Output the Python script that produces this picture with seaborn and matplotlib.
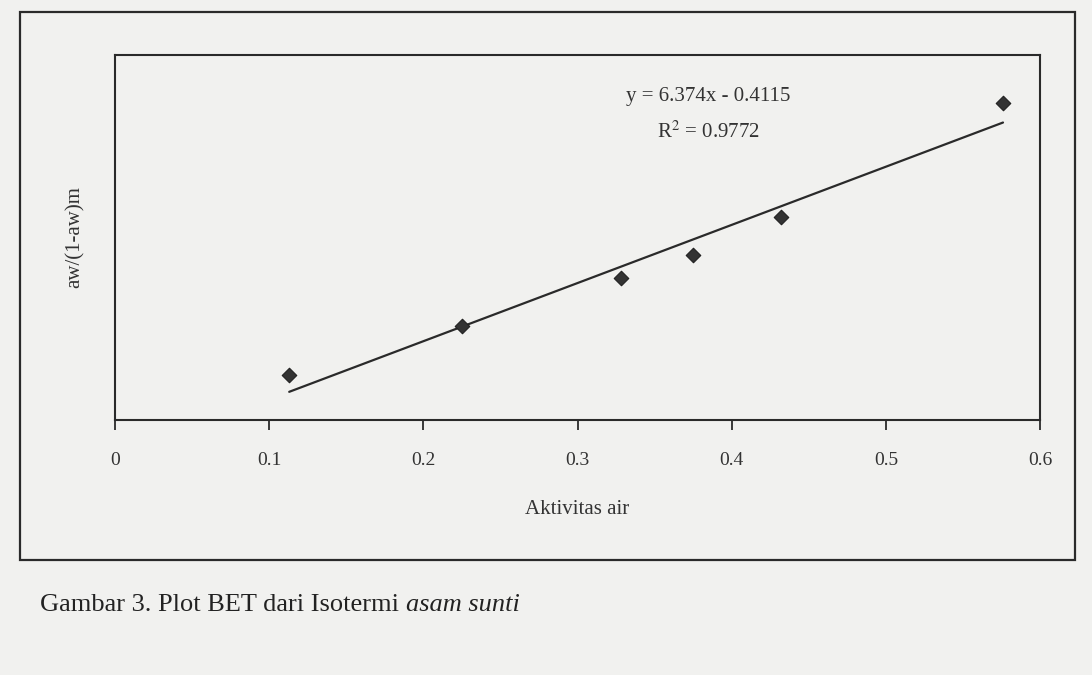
import numpy as np
import pandas as pd
import seaborn as sns
import matplotlib
matplotlib.use("Agg")
import matplotlib.pyplot as plt
from matplotlib.patches import Rectangle

# ---- data ----
aw = [0.113, 0.225, 0.328, 0.375, 0.432, 0.576]
bet = [0.49, 1.03, 1.56, 1.81, 2.22, 3.47]
slope = 6.374
intercept = -0.4115
eq_text = "y = 6.374x - 0.4115"
r2_text = "R$^2$ = 0.9772"
x_ticks = [0, 0.1, 0.2, 0.3, 0.4, 0.5, 0.6]
x_label = "Aktivitas air"
y_label = "aw/(1-aw)m"
caption = "Gambar 3. Plot BET dari Isotermi "
caption_it = "asam sunti"

sns.set_theme(style="white")
plt.rcParams['font.family'] = ['Liberation Serif', 'DejaVu Serif']
plt.rcParams['mathtext.fontset'] = 'stix'

paper = "#f1f1ef"
ink = "#2a2a2a"

fig = plt.figure(figsize=(10.92, 6.75), dpi=100, facecolor=paper)
# plot area (pixels: left 115, right 1040, top 55, bottom 420)
ax = fig.add_axes([115/1092, 1-420/675, (1040-115)/1092, (420-55)/675])
ax.set_facecolor(paper)

df = pd.DataFrame({"aw": aw, "bet": bet})
xl = np.array([min(aw), max(aw)])
line_df = pd.DataFrame({"x": xl, "y": slope*xl + intercept})
sns.lineplot(data=line_df, x="x", y="y", ax=ax, color=ink, lw=1.6, zorder=2)
sns.scatterplot(data=df, x="aw", y="bet", ax=ax, marker="D", s=55,
                color="#333333", edgecolor="#222222", linewidth=0.8, zorder=3)

ax.set_xlim(0, 0.6)
ax.set_ylim(0, 4)
ax.set_xticks(x_ticks)
ax.set_xticklabels([f"{t:g}" for t in x_ticks], fontsize=14, color="#333333")
ax.set_yticks([])
ax.tick_params(axis="x", bottom=True, direction="out", length=7, width=1.3,
               color=ink, pad=16)
for s in ax.spines.values():
    s.set_visible(True)
    s.set_color(ink)
    s.set_linewidth(1.5)

ax.set_xlabel(x_label, fontsize=15, color="#333333", labelpad=22)
ax.set_ylabel(y_label, fontsize=15, color="#333333", labelpad=22)

ax.text(0.385, 3.55, eq_text, ha="center", va="center", fontsize=15, color="#333333")
ax.text(0.385, 3.15, r2_text, ha="center", va="center", fontsize=15, color="#333333")

# chart area border
fig.patches.append(Rectangle((20/1092, 1-560/675), (1075-20)/1092, (560-12)/675,
                             transform=fig.transFigure, fill=False,
                             edgecolor=ink, lw=1.6))

# caption
t = fig.text(40/1092, 1-605/675, caption, fontsize=19, color="#222222",
             ha="left", va="center")
fig.canvas.draw()
bb = t.get_window_extent()
fig.text(bb.x1/fig.bbox.width, 1-605/675, caption_it, fontsize=19,
         color="#222222", style="italic", ha="left", va="center")

fig.savefig("out.png", dpi=100, facecolor=paper)
